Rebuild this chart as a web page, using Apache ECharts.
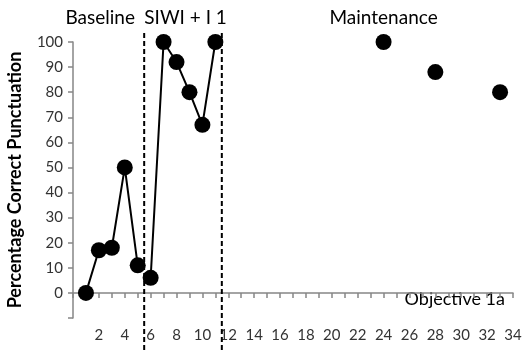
<!DOCTYPE html>
<html>
<head>
<meta charset="utf-8">
<script src="https://cdn.jsdelivr.net/npm/echarts@6/dist/echarts.min.js"></script>
<style>
  html, body { margin: 0; padding: 0; background: #fff; }
  #chart { width: 527px; height: 352px; }
</style>
</head>
<body>
<div id="chart"></div>
<script>
// Session numbers and scores per phase
const baselineSessions = [1, 2, 3, 4, 5];
const baselineScores = [0, 17, 18, 50, 11];
const interventionSessions = [6, 7, 8, 9, 10, 11];
const interventionScores = [6, 100, 92, 80, 67, 100];
const maintenanceSessions = [24, 28, 33];
const maintenanceScores = [100, 88, 80];

// Phase change lines (between sessions)
const phaseChanges = [5.5, 11.5];

// Phase labels
const phaseLabels = ['Baseline', 'SIWI + I 1', 'Maintenance'];
const objectiveLabel = 'Objective 1a';
const yAxisTitle = 'Percentage Correct Punctuation';

const FONT = 'Lato';
const pairs = (xs, ys) => xs.map((x, i) => [x, ys[i]]);

const chart = echarts.init(document.getElementById('chart'));

const markerStyle = { color: '#000', opacity: 1 };

chart.setOption({
  animation: false,
  textStyle: { fontFamily: FONT },
  grid: { left: 73, right: 14, top: 42, bottom: 34, outerBoundsMode: 'none', containLabel: false },
  xAxis: {
    type: 'value',
    min: 0, max: 34, interval: 1,
    axisLine: { show: true, lineStyle: { color: '#868686', width: 1.5 } },
    axisTick: { show: true, length: 5, lineStyle: { color: '#868686', width: 1.5 } },
    axisLabel: {
      interval: 1,
      color: '#333', fontSize: 15, fontFamily: FONT, margin: 10,
      formatter: v => (v === 0 || v % 2 !== 0) ? '' : String(v)
    },
    splitLine: { show: false }
  },
  yAxis: {
    type: 'value',
    min: -10, max: 100, interval: 10,
    name: yAxisTitle,
    nameLocation: 'middle',
    nameGap: 49,
    nameTextStyle: { fontSize: 18, fontWeight: 'bold', color: '#000', fontFamily: FONT },
    axisLine: { show: true, lineStyle: { color: '#868686', width: 1.5 } },
    axisTick: { show: true, length: 5, lineStyle: { color: '#868686', width: 1.5 } },
    axisLabel: {
      color: '#333', fontSize: 15, fontFamily: FONT, margin: 10,
      formatter: v => v < 0 ? '' : String(v)
    },
    splitLine: { show: false }
  },
  series: [
    {
      // dashed phase-change lines, running past the plot area
      type: 'custom',
      clip: false,
      silent: true,
      z: 1,
      data: phaseChanges.map(x => [x]),
      renderItem: (params, api) => {
        const x = api.value(0);
        const p1 = api.coord([x, 103.6]);
        const p2 = api.coord([x, -23.6]);
        return {
          type: 'line',
          shape: { x1: p1[0], y1: p1[1], x2: p2[0], y2: p2[1] },
          style: { stroke: '#000', lineWidth: 2, lineDash: [5, 3] }
        };
      }
    },
    {
      type: 'line',
      z: 3,
      data: pairs(baselineSessions, baselineScores),
      symbol: 'circle', symbolSize: 16,
      itemStyle: markerStyle,
      lineStyle: { color: '#000', width: 2 }
    },
    {
      type: 'line',
      z: 3,
      data: pairs(interventionSessions, interventionScores),
      symbol: 'circle', symbolSize: 16,
      itemStyle: markerStyle,
      lineStyle: { color: '#000', width: 2 }
    },
    {
      type: 'scatter',
      z: 3,
      data: pairs(maintenanceSessions, maintenanceScores),
      symbol: 'circle', symbolSize: 16,
      itemStyle: markerStyle
    }
  ]
});

// Phase labels placed from data coordinates
function placeLabels() {
  const at = (x, y) => chart.convertToPixel({ gridIndex: 0 }, [x, y]);
  const top = at(0, 100)[1] - 24;
  const pBase = at(2.1, 0)[0];
  const pSiwi = at(8.7, 0)[0];
  const pMaint = at(24, 0)[0];
  const pObj = at(29.5, -2.6);
  const txt = (x, y, t, size) => ({
    type: 'text', x, y,
    style: { text: t, fill: '#000', font: size + 'px ' + FONT, textAlign: 'center', textVerticalAlign: 'middle' }
  });
  chart.setOption({
    graphic: [
      txt(pBase, top, phaseLabels[0], 19),
      txt(pSiwi, top, phaseLabels[1], 19),
      txt(pMaint, top, phaseLabels[2], 19),
      txt(pObj[0], pObj[1], objectiveLabel, 18)
    ]
  });
}
placeLabels();
</script>
</body>
</html>
